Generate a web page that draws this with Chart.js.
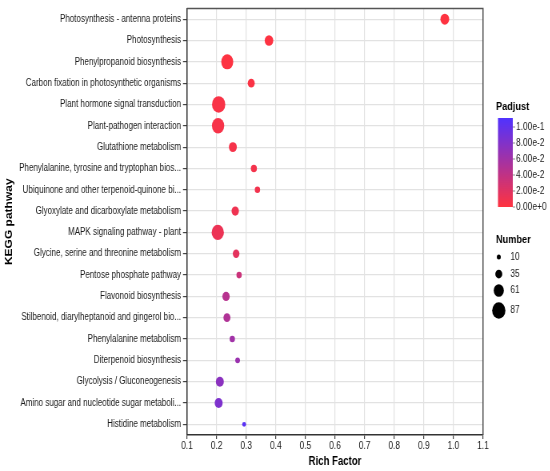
<!DOCTYPE html>
<html>
<head>
<meta charset="utf-8">
<script src="https://cdn.jsdelivr.net/npm/chart.js@4.4.1/dist/chart.umd.min.js"></script>
<style>
  html, body { margin: 0; padding: 0; background: #fff; overflow: hidden; }
  /* the original picture is squeezed sideways, so draw wider and squeeze too */
  #wrap { width: 688px; height: 471px; transform: scaleX(0.8); transform-origin: 0 0; }
</style>
</head>
<body>
<div id="wrap"><canvas id="chart" width="688" height="471"></canvas></div>
<script>
const pathways = [
  'Photosynthesis - antenna proteins',
  'Photosynthesis',
  'Phenylpropanoid biosynthesis',
  'Carbon fixation in photosynthetic organisms',
  'Plant hormone signal transduction',
  'Plant-pathogen interaction',
  'Glutathione metabolism',
  'Phenylalanine, tyrosine and tryptophan bios...',
  'Ubiquinone and other terpenoid-quinone bi...',
  'Glyoxylate and dicarboxylate metabolism',
  'MAPK signaling pathway - plant',
  'Glycine, serine and threonine metabolism',
  'Pentose phosphate pathway',
  'Flavonoid biosynthesis',
  'Stilbenoid, diarylheptanoid and gingerol bio...',
  'Phenylalanine metabolism',
  'Diterpenoid biosynthesis',
  'Glycolysis / Gluconeogenesis',
  'Amino sugar and nucleotide sugar metaboli...',
  'Histidine metabolism'
];
const richFactor = [0.971, 0.377, 0.236, 0.317, 0.207, 0.205, 0.255, 0.326, 0.338, 0.263,
                    0.204, 0.266, 0.276, 0.232, 0.235, 0.253, 0.271, 0.211, 0.207, 0.293];
const geneNumber = [50, 48, 77, 35, 87, 79, 43, 27, 21, 38,
                    79, 32, 21, 38, 35, 21, 16, 43, 43, 9];
const padjust = [0.0005, 0.001, 0.001, 0.003, 0.004, 0.005, 0.006, 0.007, 0.008, 0.010,
                 0.012, 0.017, 0.034, 0.046, 0.050, 0.060, 0.064, 0.074, 0.082, 0.105];

const xTicks = [0.1, 0.2, 0.3, 0.4, 0.5, 0.6, 0.7, 0.8, 0.9, 1.0, 1.1];
const padjTicks = [0, 0.02, 0.04, 0.06, 0.08, 0.1];
const padjLabels = ['0.00e+0', '2.00e-2', '4.00e-2', '6.00e-2', '8.00e-2', '1.00e-1'];
const numberLegend = [10, 35, 61, 87];

const PADJ_MAX = 0.11125;
const LOW = [255, 51, 64], HIGH = [80, 50, 255];

function padjColor(p) {
  const t = Math.max(0, Math.min(1, p / PADJ_MAX));
  const c = LOW.map((v, i) => Math.round(v + (HIGH[i] - v) * t));
  return 'rgb(' + c.join(',') + ')';
}

function sizeOf(n) {
  return 2.5 + (n - 10) * 0.075;
}

const FONT = '"Liberation Sans", Arial, sans-serif';
Chart.defaults.font.family = FONT;

// colour bar, size legend and the top/right frame
const sideLegend = {
  id: 'sideLegend',
  afterDraw(chart) {
    const ctx = chart.ctx;
    const a = chart.chartArea;
    ctx.save();
    ctx.strokeStyle = '#555';
    ctx.lineWidth = 1.5;
    ctx.beginPath();
    ctx.moveTo(a.left, a.top);
    ctx.lineTo(a.right, a.top);
    ctx.lineTo(a.right, a.bottom);
    ctx.stroke();

    ctx.fillStyle = '#000';
    ctx.font = 'bold 11.5px ' + FONT;
    ctx.textAlign = 'left';
    ctx.textBaseline = 'middle';
    ctx.fillText('Padjust', 620, 107);

    const top = 118, bot = 207, bx = 622.5, bw = 18.5;
    const g = ctx.createLinearGradient(0, bot, 0, top);
    g.addColorStop(0, padjColor(0));
    g.addColorStop(1, padjColor(PADJ_MAX));
    ctx.fillStyle = g;
    ctx.fillRect(bx, top, bw, bot - top);

    ctx.font = '10.5px ' + FONT;
    ctx.strokeStyle = '#888';
    ctx.lineWidth = 1;
    padjTicks.forEach((v, i) => {
      const y = bot - v / PADJ_MAX * (bot - top);
      ctx.beginPath();
      ctx.moveTo(bx + bw, y);
      ctx.lineTo(bx + bw + 3, y);
      ctx.stroke();
      ctx.fillStyle = '#222';
      ctx.fillText(padjLabels[i], 645, y);
    });

    ctx.fillStyle = '#000';
    ctx.font = 'bold 11.5px ' + FONT;
    ctx.fillText('Number', 620, 240);
    const ys = [257, 274, 290.5, 310.5];
    ctx.font = '10.5px ' + FONT;
    numberLegend.forEach((n, i) => {
      ctx.fillStyle = '#000';
      ctx.beginPath();
      ctx.arc(623.5, ys[i], sizeOf(n), 0, Math.PI * 2);
      ctx.fill();
      ctx.fillStyle = '#222';
      ctx.fillText(String(n), 638, ys[i]);
    });
    ctx.restore();
  }
};

new Chart(document.getElementById('chart'), {
  type: 'scatter',
  data: {
    datasets: [{
      data: pathways.map((p, i) => ({ x: richFactor[i], y: p })),
      pointRadius: geneNumber.map(sizeOf),
      pointHoverRadius: geneNumber.map(sizeOf),
      pointBackgroundColor: padjust.map(padjColor),
      pointBorderWidth: 0
    }]
  },
  options: {
    responsive: false,
    animation: false,
    devicePixelRatio: 1,
    layout: { padding: { top: 4, right: 84.25, bottom: 0, left: 0 } },
    plugins: { legend: { display: false }, tooltip: { enabled: false } },
    scales: {
      x: {
        type: 'linear',
        min: 0.1,
        max: 1.1,
        afterBuildTicks(s) { s.ticks = xTicks.map(v => ({ value: v })); },
        grid: { color: '#e2e2e2', lineWidth: 1.2, tickLength: 4, tickColor: '#444' },
        border: { color: '#333', width: 1.5 },
        ticks: { color: '#1a1a1a', font: { size: 10.5 }, padding: 1, maxRotation: 0,
                 callback: v => Number(v).toFixed(1) },
        title: { display: true, text: 'Rich Factor', color: '#000',
                 font: { size: 12, weight: 'bold' }, padding: { top: 0, bottom: 2 } },
        afterFit(s) { s.height = 36; }
      },
      y: {
        type: 'category',
        labels: pathways,
        offset: true,
        grid: { color: '#e2e2e2', lineWidth: 1.2, offset: false, tickLength: 5, tickColor: '#444' },
        border: { color: '#333', width: 1.5 },
        ticks: { color: '#1a1a1a', font: { size: 10 }, padding: 2.5, autoSkip: false },
        title: { display: true, text: 'KEGG pathway', color: '#000',
                 font: { size: 12, weight: 'bold' }, padding: { top: 4, bottom: 0 } },
        afterFit(s) { s.width = 233.75; }
      }
    }
  },
  plugins: [sideLegend]
});
</script>
</body>
</html>
